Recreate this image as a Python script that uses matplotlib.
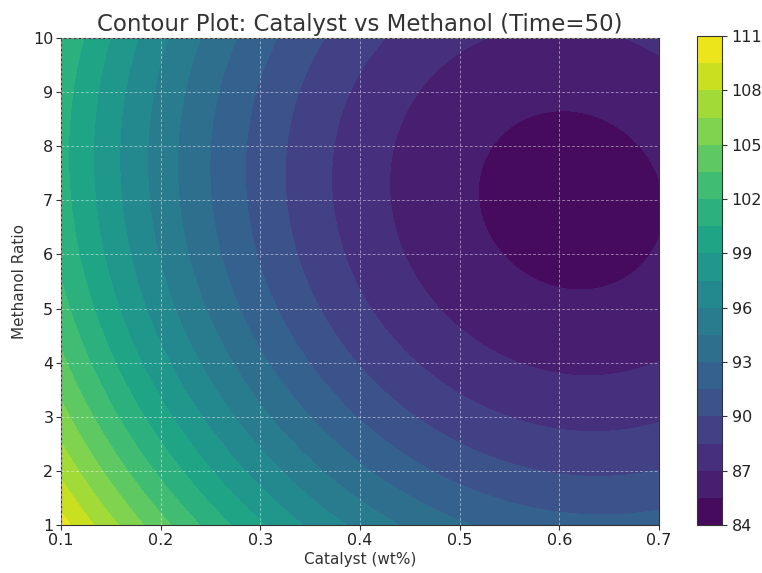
import numpy as np
import matplotlib
matplotlib.use("Agg")
import matplotlib.pyplot as plt

# Response-surface parameters (Time = 50)
catalyst_range = [0.1, 0.7]
methanol_range = [1, 10]
center_catalyst = 0.612
center_methanol = 7.0
min_yield = 84.97
curv_catalyst = 61.6
curv_methanol = 0.195
interaction = 0.65
levels = np.arange(84, 111.01, 1.5)
cbar_ticks = [84, 87, 90, 93, 96, 99, 102, 105, 108, 111]

c = np.linspace(catalyst_range[0], catalyst_range[1], 300)
m = np.linspace(methanol_range[0], methanol_range[1], 300)
C, M = np.meshgrid(c, m)
dC = C - center_catalyst
dM = M - center_methanol
Y = min_yield + curv_catalyst * dC ** 2 + curv_methanol * dM ** 2 + interaction * dC * dM

fig = plt.figure(figsize=(7.62, 5.73), dpi=100)
ax = fig.add_axes([61 / 762, 1 - 525 / 573, (659 - 61) / 762, (525 - 38) / 573])
cax = fig.add_axes([697 / 762, 1 - 525 / 573, 25 / 762, (525 - 36) / 573])

cs = ax.contourf(C, M, Y, levels=levels, cmap="viridis")
ax.grid(True, color="white", linestyle=(0, (3, 2)), linewidth=0.7, alpha=0.45)
ax.set_axisbelow(False)
ax.set_xlim(catalyst_range)
ax.set_ylim(methanol_range)
ax.set_xticks(np.round(np.arange(0.1, 0.71, 0.1), 1))
ax.set_yticks(np.arange(1, 11, 1))
ax.tick_params(labelsize=11.5, colors="#333333", labelcolor="#222222", length=3.5, pad=2)
ax.set_xlabel("Catalyst (wt%)", fontsize=11, color="#333333", labelpad=3)
ax.set_ylabel("Methanol Ratio", fontsize=11, color="#333333")
ax.set_title("Contour Plot: Catalyst vs Methanol (Time=50)", fontsize=16.5, color="#333333", pad=5)
for s in ax.spines.values():
    s.set_color("#333333")

cb = fig.colorbar(cs, cax=cax)
cb.set_ticks(cbar_ticks)
cb.ax.tick_params(labelsize=11.5, colors="#333333", labelcolor="#222222", length=3.5)
cb.outline.set_edgecolor("#333333")

fig.savefig("out.png", dpi=100)
